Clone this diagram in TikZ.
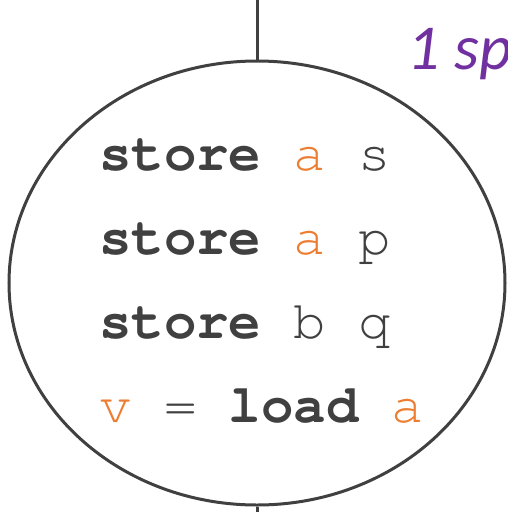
\documentclass[tikz,border=0pt]{standalone}
\usepackage{fontspec}
\setmainfont{Carlito}
\setmonofont{TeX Gyre Cursor}
\usetikzlibrary{shapes.geometric}
\definecolor{ink}{HTML}{404040}
\definecolor{orng}{HTML}{ED7D31}
\definecolor{purp}{HTML}{7030A0}
\tikzset{
  blockshape/.style={ellipse, draw=ink, line width=3pt, inner sep=0pt, minimum width=496pt, minimum height=444pt},
  wire/.style={draw=ink, line width=3pt},
  codeline/.style={anchor=base west, inner sep=0pt, text=ink, font=\fontsize{54}{54}\selectfont\ttfamily},
  note/.style={anchor=base west, inner sep=0pt, text=purp, font=\fontsize{64}{64}\selectfont\itshape}
}
\begin{document}
\begin{tikzpicture}[x=1pt,y=-1pt]
\useasboundingbox (0,0) rectangle (508,512);
\node[blockshape] (blk) at (257,283) {};
\coordinate (topend) at (257,-2);
\coordinate (botend) at (257,514);
\draw[wire] (topend) -- (blk.north);
\draw[wire] (blk.south) -- (botend);
\node[codeline] (l1) at (99,170) {\textbf{store} \textcolor{orng}{a} s};
\node[codeline] (l2) at (99,254) {\textbf{store} \textcolor{orng}{a} p};
\node[codeline] (l3) at (99,338) {\textbf{store} b q};
\node[codeline] (l4) at (99,422) {\textcolor{orng}{v} = \textbf{load} \textcolor{orng}{a}};
\node[note] (sp) at (407,69) {1 sp};
\end{tikzpicture}
\end{document}
